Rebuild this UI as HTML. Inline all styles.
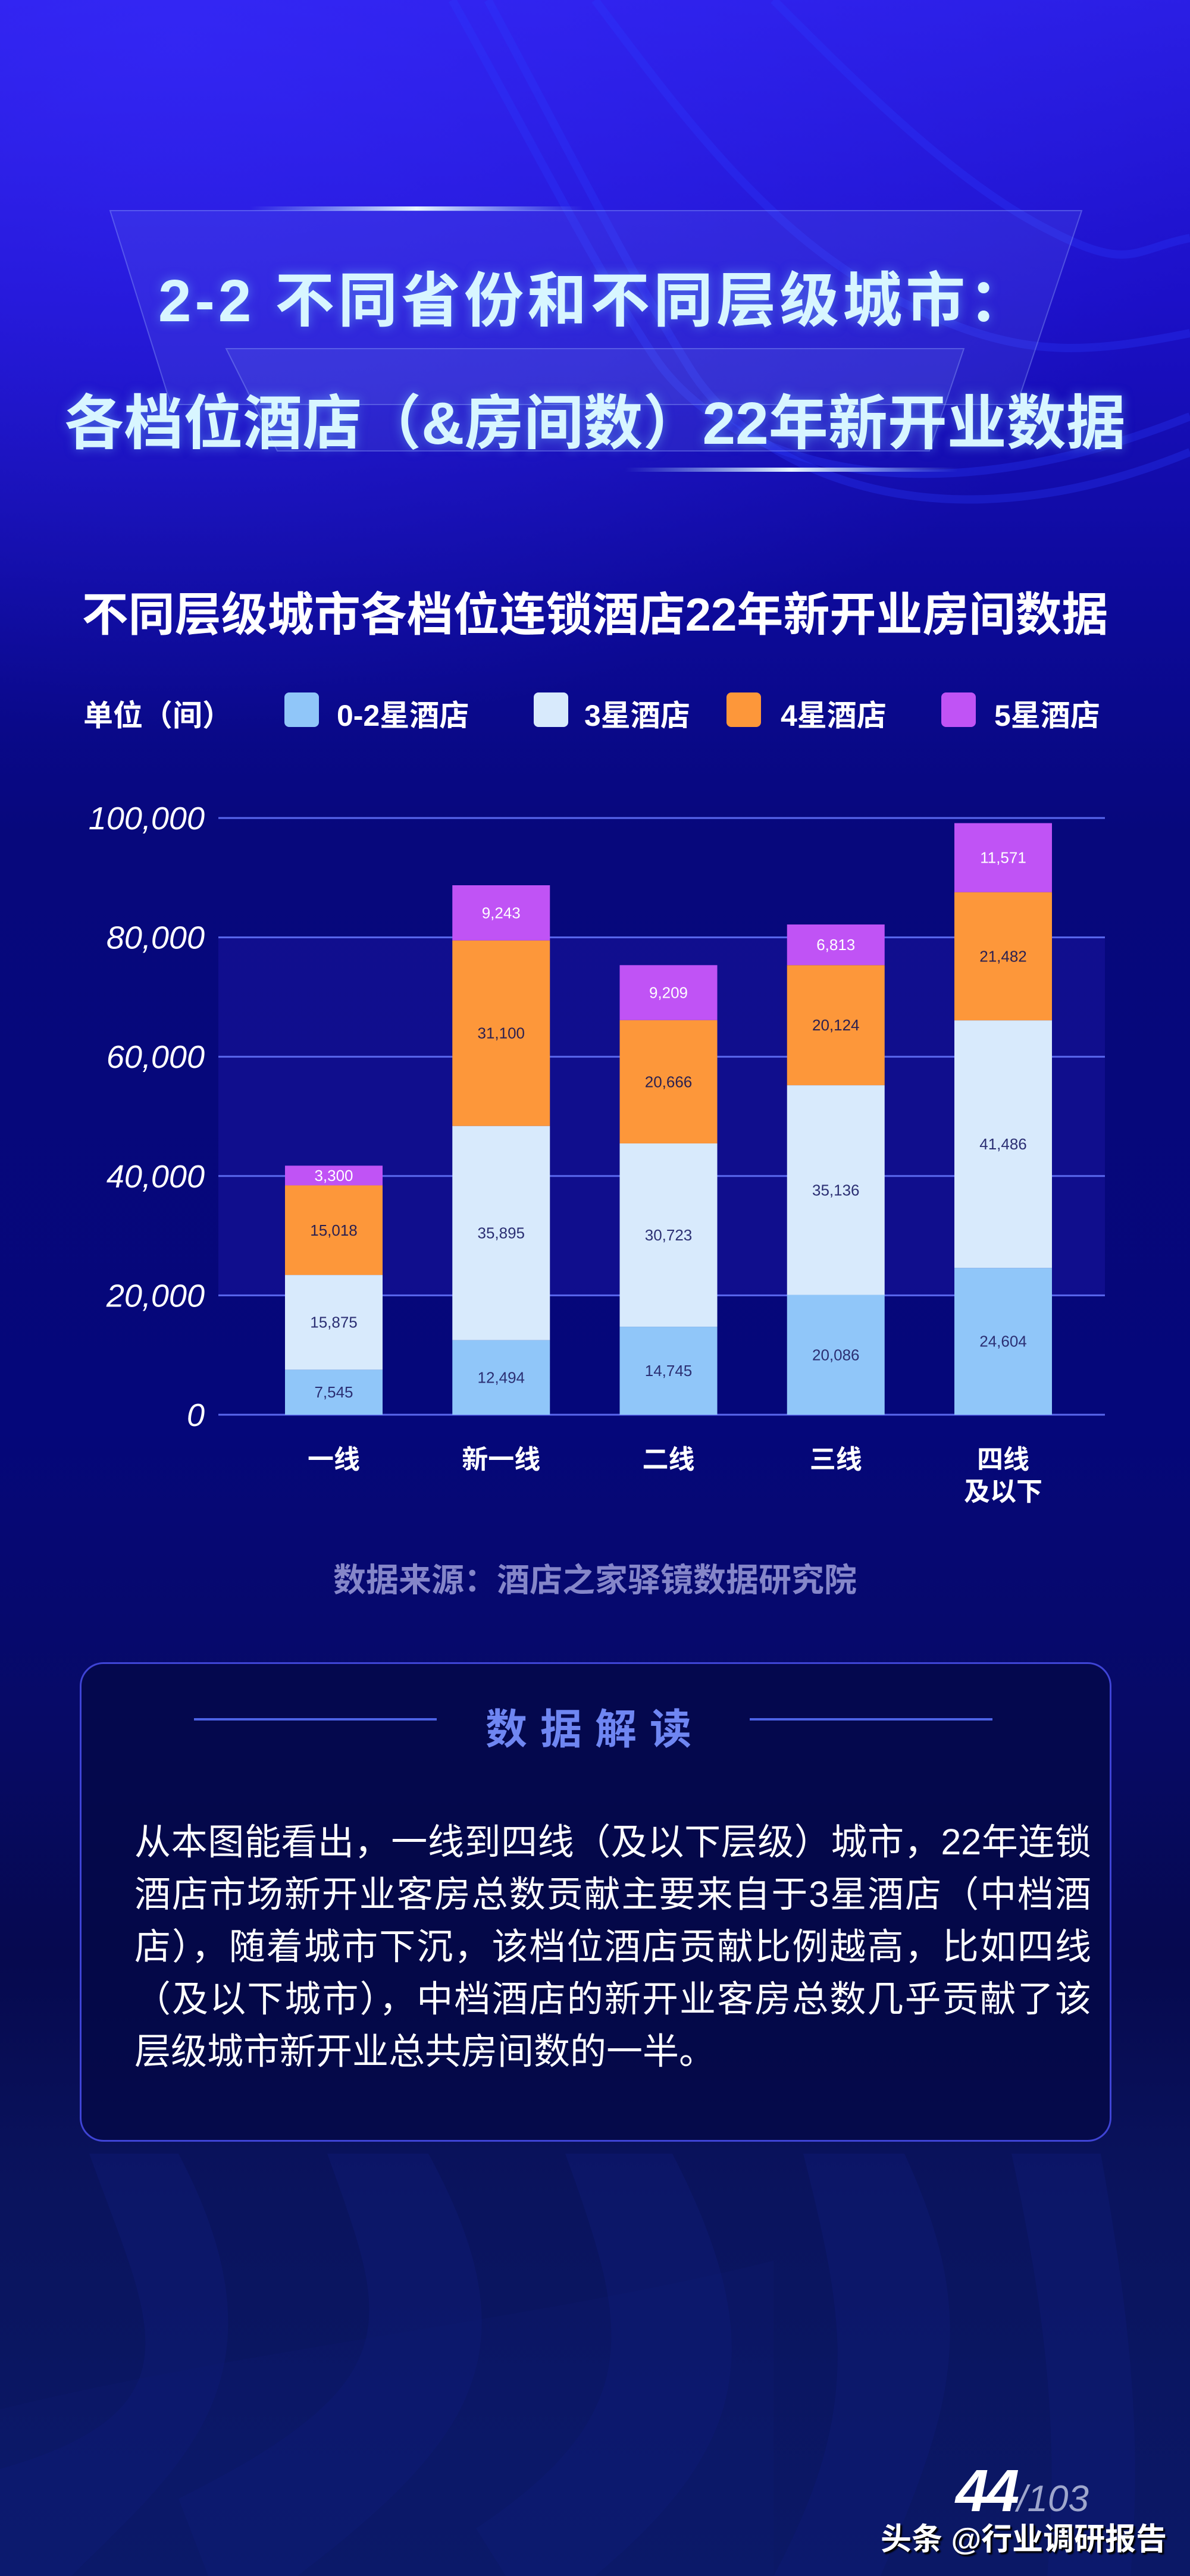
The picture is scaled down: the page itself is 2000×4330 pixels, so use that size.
<!DOCTYPE html>
<html lang="zh">
<head>
<meta charset="utf-8">
<style>
  html,body{margin:0;padding:0;}
  body{width:2000px;height:4330px;position:relative;overflow:hidden;
    font-family:"Liberation Sans","Noto Sans CJK SC",sans-serif;
    background:linear-gradient(180deg,#2a1ee4 0px,#1c10c8 500px,#0d0a9a 1000px,#07087c 1400px,#05077a 2400px,#070a66 2900px,#06094f 3300px,#0a145e 3700px,#0b1866 4330px);}
  .abs{position:absolute;}
  .title{left:0;width:2000px;text-align:center;font-weight:bold;font-size:100px;
    color:#d8f6ff;text-shadow:0 0 18px rgba(120,200,255,0.5);white-space:nowrap;}
  .para{left:226px;width:1608px;font-size:61px;color:#fff;line-height:88px;
    text-align:justify;text-align-last:justify;white-space:nowrap;font-weight:normal;}
</style>
</head>
<body>
<svg class="abs" style="left:0;top:0" width="2000" height="4330">
  <defs>
    <radialGradient id="tl" cx="0.15" cy="0.05" r="0.9">
      <stop offset="0" stop-color="#3a2cff" stop-opacity="0.6"/>
      <stop offset="1" stop-color="#3a2cff" stop-opacity="0"/>
    </radialGradient>
    <linearGradient id="glow" x1="0" x2="1">
      <stop offset="0" stop-color="#9fd8ff" stop-opacity="0"/>
      <stop offset="0.5" stop-color="#e8f6ff" stop-opacity="1"/>
      <stop offset="1" stop-color="#9fd8ff" stop-opacity="0"/>
    </linearGradient>
  </defs>
  <rect x="0" y="0" width="2000" height="1300" fill="url(#tl)"/>
  <g fill="none" stroke="#2a3cff" stroke-opacity="0.3" stroke-width="14">
    <path d="M760 0 C900 250 1000 450 1100 600 S1500 900 2000 700"/>
    <path d="M820 0 C960 260 1060 460 1160 620 S1560 940 2000 760"/>
    <path d="M1000 0 C1150 200 1300 400 1500 500 S1800 600 2000 560"/>
    <path d="M1300 0 C1450 150 1600 300 1750 380 S1900 420 2000 400"/>
  </g>
  <g fill="#0e1c78" fill-opacity="0.4">
    <path d="M0 4050 C400 3950 900 3900 1300 3800 L1300 4330 L0 4330Z" fill-opacity="0.2"/>
    <path d="M150 3620 C250 3900 350 4050 0 4150 L0 4330 L120 4330 C300 4150 500 4000 300 3620Z"/>
    <path d="M550 3620 C650 3900 700 4000 300 4200 L350 4330 L500 4330 C800 4100 900 3950 720 3620Z"/>
    <path d="M950 3620 C1050 3900 1100 4050 800 4250 L850 4330 L1000 4330 C1250 4120 1300 3950 1130 3620Z"/>
    <path d="M1350 3620 C1420 3900 1450 4050 1300 4330 L1480 4330 C1600 4050 1650 3900 1520 3620Z"/>
    <path d="M1700 3620 C1760 3900 1780 4100 1760 4330 L1900 4330 C1920 4100 1900 3900 1850 3620Z"/>
  </g>
  <polygon points="185,354 1818,354 1709,680 287,680" fill="#8aa0ff" fill-opacity="0.12" stroke="#9fb4ff" stroke-opacity="0.35" stroke-width="2"/>
  <polygon points="380,586 1620,586 1562,758 466,758" fill="#8aa0ff" fill-opacity="0.12" stroke="#9fb4ff" stroke-opacity="0.35" stroke-width="2"/>
  <rect x="420" y="347" width="560" height="7" fill="url(#glow)"/>
  <rect x="1050" y="786" width="560" height="7" fill="url(#glow)"/>
</svg>

<div class="abs title" style="top:424px;letter-spacing:6px;">2-2 不同省份和不同层级城市：</div>
<div class="abs title" style="top:630px;">各档位酒店（&amp;房间数）22年新开业数据</div>

<div class="abs" style="left:0;width:2000px;top:971px;text-align:center;font-size:78px;font-weight:bold;color:#fff;white-space:nowrap;">不同层级城市各档位连锁酒店22年新开业房间数据</div>

<div class="abs" style="left:140px;top:1163px;font-size:50px;font-weight:bold;color:#fff;white-space:nowrap;">单位（间）</div>
<div class="abs" style="left:478px;top:1164px;width:58px;height:58px;border-radius:8px;background:#90c6f9;"></div>
<div class="abs" style="left:566px;top:1163px;font-size:50px;font-weight:bold;color:#fff;white-space:nowrap;">0-2星酒店</div>
<div class="abs" style="left:897px;top:1164px;width:58px;height:58px;border-radius:8px;background:#d8eafc;"></div>
<div class="abs" style="left:982px;top:1163px;font-size:50px;font-weight:bold;color:#fff;white-space:nowrap;">3星酒店</div>
<div class="abs" style="left:1221px;top:1164px;width:58px;height:58px;border-radius:8px;background:#fd973a;"></div>
<div class="abs" style="left:1312px;top:1163px;font-size:50px;font-weight:bold;color:#fff;white-space:nowrap;">4星酒店</div>
<div class="abs" style="left:1582px;top:1164px;width:58px;height:58px;border-radius:8px;background:#c053f5;"></div>
<div class="abs" style="left:1671px;top:1163px;font-size:50px;font-weight:bold;color:#fff;white-space:nowrap;">5星酒店</div>

<svg id="chart" class="abs" style="left:0;top:0" width="2000" height="2600"></svg>

<div class="abs" style="left:0;width:2000px;top:2611px;text-align:center;font-size:55px;font-weight:bold;color:#8586c9;white-space:nowrap;">数据来源：酒店之家驿镜数据研究院</div>

<div class="abs" style="left:134px;top:2794px;width:1728px;height:800px;border:3px solid #3f44d6;border-radius:40px;background:rgba(4,8,70,0.75);"></div>
<div class="abs" style="left:326px;top:2888px;width:408px;height:4px;background:#4d63e6;"></div>
<div class="abs" style="left:1260px;top:2888px;width:408px;height:4px;background:#4d63e6;"></div>
<div class="abs" style="left:0;width:2000px;top:2851px;text-align:center;font-size:70px;font-weight:bold;color:#6f86f2;letter-spacing:22px;white-space:nowrap;">数据解读</div>

<div class="abs para" style="top:3052px;">从本图能看出，一线到四线（及以下层级）城市，22年连锁</div>
<div class="abs para" style="top:3140px;">酒店市场新开业客房总数贡献主要来自于3星酒店（中档酒</div>
<div class="abs para" style="top:3228px;">店），随着城市下沉，该档位酒店贡献比例越高，比如四线</div>
<div class="abs para" style="top:3316px;">（及以下城市），中档酒店的新开业客房总数几乎贡献了该</div>
<div class="abs" style="left:226px;top:3404px;font-size:61px;line-height:88px;color:#fff;white-space:nowrap;">层级城市新开业总共房间数的一半。</div>

<div class="abs" style="left:1606px;top:4130px;font-size:100px;font-style:italic;font-weight:bold;color:#fff;white-space:nowrap;letter-spacing:-4px;">44<span style="font-size:62px;color:#9ea6cc;font-weight:normal;letter-spacing:0">/103</span></div>
<div class="abs" style="left:1480px;top:4226px;font-size:52px;font-weight:bold;color:#fff;white-space:nowrap;text-shadow:3px 3px 2px #000;">头条 @行业调研报告</div>

<script>
const categories = ["一线", "新一线", "二线", "三线", "四线\n及以下"];
const star02 = [7545, 12494, 14745, 20086, 24604];
const star3 = [15875, 35895, 30723, 35136, 41486];
const star4 = [15018, 31100, 20666, 20124, 21482];
const star5 = [3300, 9243, 9209, 6813, 11571];
const yTicks = [0, 20000, 40000, 60000, 80000, 100000];

const NS = "http://www.w3.org/2000/svg";
const svg = document.getElementById("chart");
const Y0 = 2378, YTOP = 1375, YMAX = 100000;
const X_LEFT = 367, X_RIGHT = 1857, X0 = 561, STEP = 281.25, BW = 164;
function y(v){ return Y0 - v / YMAX * (Y0 - YTOP); }
function x(i){ return X0 + i * STEP; }
function mk(tag, attrs){ const e = document.createElementNS(NS, tag); for (const k in attrs) e.setAttribute(k, attrs[k]); svg.appendChild(e); return e; }
function fmt(v){ return v.toLocaleString("en-US"); }

const band = mk("rect", {x: X_LEFT, y: y(80000), width: X_RIGHT - X_LEFT, height: y(20000) - y(80000), fill: "#2a22c0", "fill-opacity": "0.28"});



yTicks.forEach(t => {
  const g = mk("line", {x1: X_LEFT, x2: X_RIGHT, y1: y(t), y2: y(t), stroke: "#5a68ee", "stroke-width": 3});
  
  
  const lb = mk("text", {x: 344, y: y(t) + 19, "text-anchor": "end", "font-size": 54, "font-style": "italic", fill: "#fff", "font-family": "Liberation Sans, sans-serif"});
  lb.textContent = fmt(t);
  
  
});

const series = [
  {vals: star02, color: "#90c6f9", txt: "#2b2f73", name: "0-2-star"},
  {vals: star3, color: "#d8eafc", txt: "#2b2f73", name: "3-star"},
  {vals: star4, color: "#fd973a", txt: "#2b2050", name: "4-star"},
  {vals: star5, color: "#c053f5", txt: "#ffffff", name: "5-star"}
];

categories.forEach((c, i) => {
  let base = 0;
  series.forEach(s => {
    const v = s.vals[i];
    const r = mk("rect", {x: x(i) - BW / 2, y: y(base + v), width: BW, height: y(base) - y(base + v), fill: s.color});
    
    
    const t = mk("text", {x: x(i), y: (y(base) + y(base + v)) / 2 + 9, "text-anchor": "middle", "font-size": 26, fill: s.txt, "font-family": "Liberation Sans, sans-serif"});
    t.textContent = fmt(v);
    
    
    base += v;
  });
  c.split("\n").forEach((line, k) => {
    const t = mk("text", {x: x(i), y: 2468 + k * 54, "text-anchor": "middle", "font-size": 44, "font-weight": "bold", fill: "#fff", "font-family": "Liberation Sans, Noto Sans CJK SC, sans-serif"});
    t.textContent = line;
    
    
  });
});
</script>
</body>
</html>
